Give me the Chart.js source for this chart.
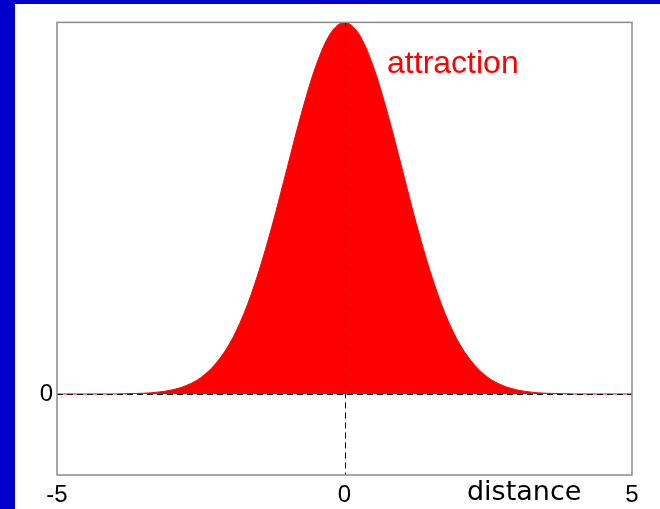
<!DOCTYPE html>
<html>
<head>
<meta charset="utf-8">
<title>attraction</title>
<script src="https://cdn.jsdelivr.net/npm/chart.js@4.4.0/dist/chart.umd.min.js"></script>
<style>
  html, body { margin: 0; padding: 0; background: #0000cc; width: 660px; height: 509px; overflow: hidden; }
  #box { position: absolute; left: 15px; top: 4px; width: 645px; height: 505px; background: #ffffff; }
</style>
</head>
<body>
<div id="box"><canvas id="chart" width="645" height="505"></canvas></div>
<script>
// distance samples and the attraction read at each one
const distance = [-5, -4.75, -4.5, -4.25, -4, -3.75, -3.5, -3.25, -3, -2.75, -2.5, -2.25, -2, -1.75, -1.5, -1.25, -1, -0.75, -0.5, -0.25,
  0, 0.25, 0.5, 0.75, 1, 1.25, 1.5, 1.75, 2, 2.25, 2.5, 2.75, 3, 3.25, 3.5, 3.75, 4, 4.25, 4.5, 4.75, 5];
const attraction = [0, 0, 0, 0, 0, 0.001, 0.002, 0.005, 0.011, 0.023, 0.044, 0.08, 0.135, 0.216, 0.325, 0.458, 0.607, 0.755, 0.882, 0.969,
  1.0, 0.969, 0.882, 0.755, 0.607, 0.458, 0.325, 0.216, 0.135, 0.08, 0.044, 0.023, 0.011, 0.005, 0.002, 0.001, 0, 0, 0, 0, 0];
const xTicks = [-5, 0, 5];
const yTicks = [0];

const tickFont = { family: '"Liberation Sans", Arial, sans-serif', size: 24 };

// frame, dashed zero lines and the two text labels
const decor = {
  id: 'decor',
  afterDatasetsDraw(chart) {
    const { ctx, chartArea: a, scales: { x, y } } = chart;
    const x0 = x.getPixelForValue(0), y0 = y.getPixelForValue(0);
    ctx.save();
    ctx.strokeStyle = '#000';
    ctx.lineWidth = 1;
    ctx.setLineDash([6, 4]);
    ctx.beginPath();
    ctx.moveTo(a.left, y0 + 0.5); ctx.lineTo(a.right, y0 + 0.5);
    ctx.moveTo(Math.round(x0) + 0.5, a.top); ctx.lineTo(Math.round(x0) + 0.5, a.bottom);
    ctx.stroke();
    ctx.setLineDash([]);
    ctx.strokeStyle = '#8a8a8a';
    ctx.lineWidth = 1.5;
    ctx.strokeRect(a.left, a.top, a.right - a.left, a.bottom - a.top);

    ctx.textAlign = 'left';
    ctx.textBaseline = 'alphabetic';
    ctx.fillStyle = '#ff0000';
    ctx.font = '32px "Liberation Sans", Arial, sans-serif';
    ctx.fillText('attraction', x.getPixelForValue(0.74), y.getPixelForValue(0.863));
    ctx.fillStyle = '#000';
    ctx.font = '27px "DejaVu Sans", Verdana, sans-serif';
    ctx.fillText('distance', x.getPixelForValue(2.13), a.bottom + 25);
    ctx.restore();
  }
};

new Chart(document.getElementById('chart'), {
  type: 'line',
  data: {
    datasets: [{
      data: distance.map((d, i) => ({ x: d, y: attraction[i] })),
      fill: 'origin',
      backgroundColor: '#ff0000',
      borderColor: '#ff0000',
      borderWidth: 1,
      pointRadius: 0,
      cubicInterpolationMode: 'monotone'
    }]
  },
  options: {
    responsive: false,
    animation: false,
    layout: { padding: { left: 0, top: 18, right: 28, bottom: 0 } },
    plugins: { legend: { display: false }, tooltip: { enabled: false } },
    scales: {
      x: {
        type: 'linear', min: -5, max: 5,
        afterBuildTicks: s => { s.ticks = xTicks.map(v => ({ value: v })); },
        afterFit: s => { s.height = 34; },
        grid: { display: false, drawTicks: false },
        border: { display: false },
        ticks: { font: tickFont, color: '#000', padding: 6, maxRotation: 0, autoSkip: false }
      },
      y: {
        min: -0.218, max: 1,
        afterBuildTicks: s => { s.ticks = yTicks.map(v => ({ value: v })); },
        afterFit: s => { s.width = 42; },
        grid: { display: false, drawTicks: false },
        border: { display: false },
        ticks: { font: tickFont, color: '#000', padding: 4 }
      }
    }
  },
  plugins: [decor]
});
</script>
</body>
</html>
